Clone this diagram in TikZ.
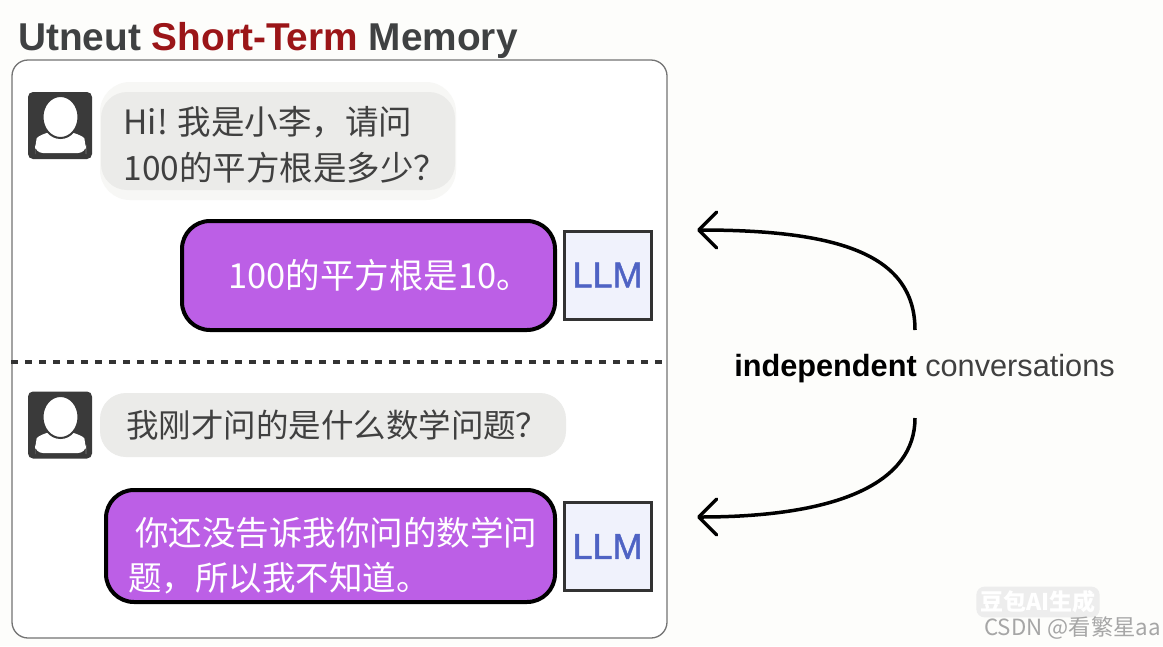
\documentclass[tikz,border=0pt]{standalone}
\usepackage{fontspec}
\setmainfont{Noto Sans CJK SC}
\newfontfamily\latinfont{Liberation Sans}
\newfontfamily\llmfont[FakeBold=1.2]{Liberation Sans}
\usetikzlibrary{arrows.meta}
\definecolor{pagebg}{HTML}{FDFDFB}
\definecolor{bubblegray}{HTML}{EBEBE9}
\definecolor{bubbleglow}{HTML}{F7F7F5}
\definecolor{bubblepurple}{HTML}{BC5FE6}
\definecolor{llmfill}{HTML}{F0F2FC}
\definecolor{llmblue}{HTML}{4F63C4}
\definecolor{icondark}{HTML}{3A3A3A}
\definecolor{titlegray}{HTML}{3F4142}
\definecolor{titlered}{HTML}{9B1518}
\tikzset{
  ask/.style={fill=bubblegray,rounded corners=26pt,inner sep=0pt},
  answer/.style={draw=black,line width=4pt,fill=bubblepurple,rounded corners=28pt,inner sep=0pt},
  asktext/.style={anchor=west,inner sep=0pt,align=left,text=black!75,font=\fontsize{33.5}{46}\selectfont},
  answertext/.style={anchor=west,inner sep=0pt,align=left,text=white,font=\fontsize{33.5}{45}\selectfont},
  llm/.style={draw=black!80,line width=3pt,fill=llmfill,minimum width=87pt,minimum height=88pt,inner sep=0pt,text=llmblue,font=\llmfont\fontsize{36}{36}\selectfont},
  usericon/.style={fill=icondark,rounded corners=5pt,minimum width=64pt,minimum height=67pt,inner sep=0pt},
  userhead/.style={fill=white,draw=icondark,line width=2pt},
  backarrow/.style={line width=3.5pt,-{Straight Barb[length=18pt,width=36pt,line width=3.5pt,round]}},
}
\begin{document}
\begin{tikzpicture}[x=1pt,y=-1pt]
\useasboundingbox[fill=pagebg] (0,0) rectangle (1163,646);
\node[anchor=base west,inner sep=0pt,font=\latinfont\bfseries\fontsize{38.8}{39}\selectfont] (title) at (18,50) {\textcolor{titlegray}{Utneut} \textcolor{titlered}{Short-Term} \textcolor{titlegray}{Memory}};
\node[draw=black!55,line width=1.3pt,fill=white,rounded corners=16pt,minimum width=655pt,minimum height=578pt] (panel) at (339.5,349) {};
\draw[line width=3.5pt,dash pattern=on 7pt off 7pt,black!80] (panel.west |- 0,362) -- (panel.east |- 0,362);
\fill[bubbleglow,rounded corners=30pt] (100,82) rectangle (456,200);
\node[usericon] (user1) at (60,125.5) {};
\fill[white,rounded corners=8pt] (35,153) -- (35,146) .. controls (37,137) and (46,132) .. (60,132) .. controls (74,132) and (84,137) .. (86,146) -- (86,153) -- cycle;
\draw[userhead] (60.5,117) ellipse (18pt and 21pt);
\node[ask,minimum width=354pt,minimum height=98pt] (ask1) at (278,141) {};
\node[asktext] (ask1text) at ([xshift=22.5pt,yshift=-4pt]ask1.west) {Hi! 我是小李，请问\\100的平方根是多少？};
\node[answer,minimum width=373pt,minimum height=109pt] (answer1) at (368.5,275.5) {};
\node[answertext,font=\fontsize{34.5}{45}\selectfont] (answer1text) at ([xshift=48pt]answer1.west) {100的平方根是10。};
\node[llm] (llm1) at (607.5,275) {LLM};
\node[usericon] (user2) at (60,425) {};
\fill[white,rounded corners=8pt] (35,453) -- (35,446) .. controls (37,437) and (46,432) .. (60,432) .. controls (74,432) and (84,437) .. (86,446) -- (86,453) -- cycle;
\draw[userhead] (60.5,417) ellipse (18pt and 21pt);
\node[ask,minimum width=466pt,minimum height=64pt] (ask2) at (333,425) {};
\node[asktext,font=\fontsize{32.5}{46}\selectfont] (ask2text) at ([xshift=26pt]ask2.west) {我刚才问的是什么数学问题？};
\node[answer,minimum width=449pt,minimum height=112pt] (answer2) at (330.5,546) {};
\node[answertext] (answer2text) at ([xshift=24pt,yshift=-10pt]answer2.west) {\hspace{7pt}你还没告诉我你问的数学问\\题，所以我不知道。};
\node[llm] (llm2) at (607.5,546.5) {LLM};
\node[anchor=center,inner sep=0pt,font=\latinfont\fontsize{30.7}{31}\selectfont] (conv) at (924.5,369) {\textbf{independent} \textcolor{black!75}{conversations}};
\coordinate (top1) at (915,330);
\coordinate (tip1) at (697,230);
\coordinate (top2) at (915,418);
\coordinate (tip2) at (697,517);
\draw[backarrow] (top1) .. controls (915,255) and (840,230) .. (tip1);
\draw[backarrow] (top2) .. controls (915,482) and (840,517) .. (tip2);
\node[fill=black!7,rounded corners=8pt,inner sep=4pt,text=white,font=\bfseries\fontsize{23}{23}\selectfont] (mark) at (1038,602) {豆包AI生成};
\node[inner sep=0pt,text=black!35,font=\fontsize{22.3}{22}\selectfont] (csdn) at (1072.5,628) {CSDN @看繁星aa};
\end{tikzpicture}
\end{document}
